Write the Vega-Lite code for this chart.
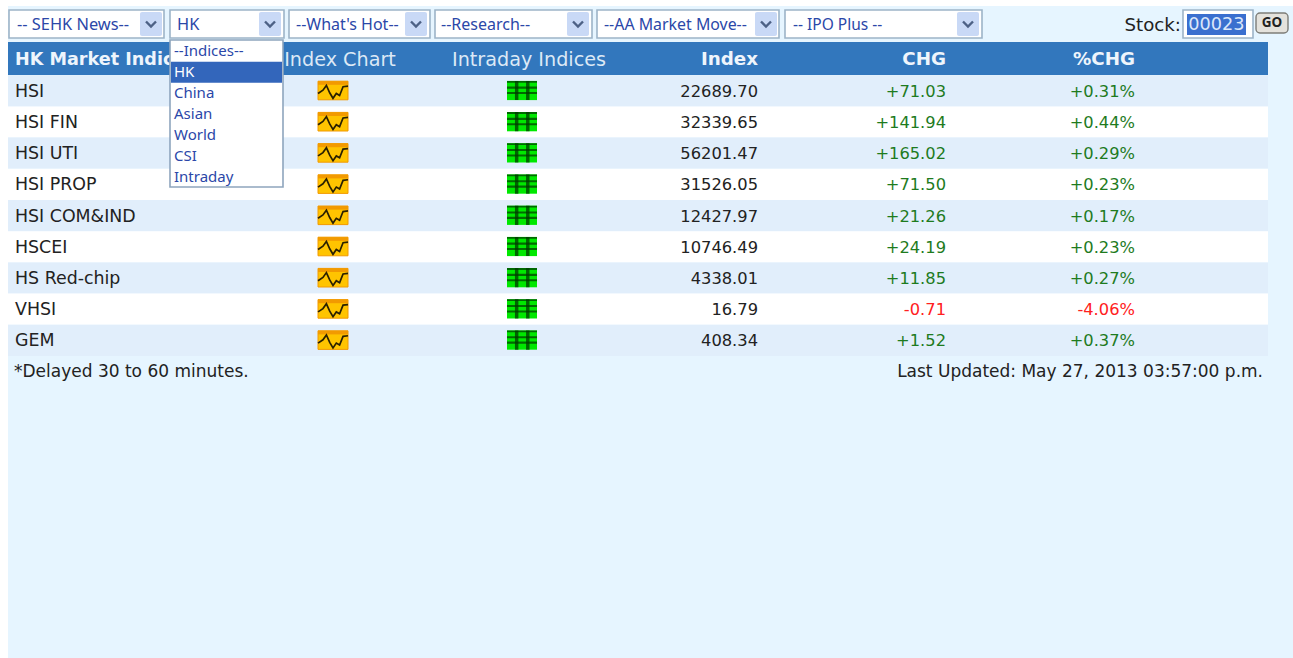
{
"$schema":"https://vega.github.io/schema/vega-lite/v6.json",
"width":1293,"height":658,"padding":0,"autosize":{"type":"fit","contains":"padding"},"background":"#ffffff",
"config":{"view":{"stroke":null},"axis":{"disable":true},"legend":{"disable":true},"locale":{"number":{"decimal":".","thousands":",","grouping":[3],"currency":["$",""],"minus":"-"}}},
"datasets":{
"rows":[
{"name":"HSI","index":22689.70,"chg":71.03,"pct":0.0031},
{"name":"HSI FIN","index":32339.65,"chg":141.94,"pct":0.0044},
{"name":"HSI UTI","index":56201.47,"chg":165.02,"pct":0.0029},
{"name":"HSI PROP","index":31526.05,"chg":71.50,"pct":0.0023},
{"name":"HSI COM&IND","index":12427.97,"chg":21.26,"pct":0.0017},
{"name":"HSCEI","index":10746.49,"chg":24.19,"pct":0.0023},
{"name":"HS Red-chip","index":4338.01,"chg":11.85,"pct":0.0027},
{"name":"VHSI","index":16.79,"chg":-0.71,"pct":-0.0406},
{"name":"GEM","index":408.34,"chg":1.52,"pct":0.0037}
],
"options":[{"option":"--Indices--"},{"option":"HK"},{"option":"China"},{"option":"Asian"},{"option":"World"},{"option":"CSI"},{"option":"Intraday"}]
},
"data":{"values":[{"k":1}]},
"resolve":{"scale":{"x":"independent","y":"independent","fill":"independent","color":"independent"}},
"layer":[
{"layer":[
{"mark":{"type":"rect","fill":"#e6f5ff"},"encoding":{"x":{"datum":8,"type":"quantitative","scale":{"domain":[0,1293],"nice":false,"zero":false}},"x2":{"datum":1293},"y":{"datum":6,"type":"quantitative","scale":{"domain":[658,0],"nice":false,"zero":false}},"y2":{"datum":658}}},
{"mark":{"type":"rect","fill":"#3277bd"},"encoding":{"x":{"datum":8,"type":"quantitative"},"x2":{"datum":1268},"y":{"datum":42,"type":"quantitative"},"y2":{"datum":75}}}
]},
{"data":{"name":"rows"},"mark":{"type":"rect"},"encoding":{
"x":{"datum":8,"type":"quantitative","scale":{"domain":[0,1293],"nice":false,"zero":false}},"x2":{"datum":1268},
"y":{"field":"name","type":"nominal","sort":null,"scale":{"type":"band","domain":["header","HSI","HSI FIN","HSI UTI","HSI PROP","HSI COM&IND","HSCEI","HS Red-chip","VHSI","GEM"],"range":[44,356],"paddingInner":0,"paddingOuter":0}},
"fill":{"field":"name","type":"nominal","legend":null,"scale":{"domain":["HSI","HSI FIN","HSI UTI","HSI PROP","HSI COM&IND","HSCEI","HS Red-chip","VHSI","GEM"],"range":["#e1eefb","#ffffff","#e1eefb","#ffffff","#e1eefb","#ffffff","#e1eefb","#ffffff","#e1eefb"]}}
}},
{"layer":[
{"data":{"values":[{"t":"HK Market Indic"}]},"mark":{"type":"text","font":"DejaVu Sans","fontSize":17.6,"fontWeight":"bold","fill":"#eef5fc","align":"left","dx":-129},"encoding":{"text":{"field":"t"},
"x":{"datum":"name","type":"nominal","scale":{"type":"point","domain":["name","chart","intraday","index","chg","pct"],"range":[144,1089],"padding":0}},
"y":{"datum":"header","type":"nominal","scale":{"type":"band","domain":["header","HSI","HSI FIN","HSI UTI","HSI PROP","HSI COM&IND","HSCEI","HS Red-chip","VHSI","GEM"],"range":[44,356],"paddingInner":0,"paddingOuter":0}}}},
{"data":{"values":[{"t":"Index Chart"}]},"mark":{"type":"text","font":"DejaVu Sans","fontSize":19.2,"fill":"#dce9f6","dx":7},"encoding":{"text":{"field":"t"},"x":{"datum":"chart","type":"nominal"},"y":{"datum":"header","type":"nominal"}}},
{"data":{"values":[{"t":"Intraday Indices"}]},"mark":{"type":"text","font":"DejaVu Sans","fontSize":19.2,"fill":"#dce9f6","dx":7},"encoding":{"text":{"field":"t"},"x":{"datum":"intraday","type":"nominal"},"y":{"datum":"header","type":"nominal"}}},
{"data":{"values":[{"t":"Index"}]},"mark":{"type":"text","font":"DejaVu Sans","fontSize":18.3,"fontWeight":"bold","fill":"#eef5fc","align":"right","dx":47},"encoding":{"text":{"field":"t"},"x":{"datum":"index","type":"nominal"},"y":{"datum":"header","type":"nominal"}}},
{"data":{"values":[{"t":"CHG"}]},"mark":{"type":"text","font":"DejaVu Sans","fontSize":18.3,"fontWeight":"bold","fill":"#eef5fc","align":"right","dx":46},"encoding":{"text":{"field":"t"},"x":{"datum":"chg","type":"nominal"},"y":{"datum":"header","type":"nominal"}}},
{"data":{"values":[{"t":"%CHG"}]},"mark":{"type":"text","font":"DejaVu Sans","fontSize":18.3,"fontWeight":"bold","fill":"#eef5fc","align":"right","dx":46},"encoding":{"text":{"field":"t"},"x":{"datum":"pct","type":"nominal"},"y":{"datum":"header","type":"nominal"}}},
{"data":{"name":"rows"},"mark":{"type":"text","font":"DejaVu Sans","fontSize":17.4,"fill":"#222222","align":"left","dx":-129,"dy":1},"encoding":{"text":{"field":"name"},"x":{"datum":"name","type":"nominal"},"y":{"field":"name","type":"nominal"}}},
{"data":{"name":"rows"},"mark":{"type":"point","filled":true,"size":900,"opacity":1,"fill":"#ffc400","stroke":"#f29a00","strokeWidth":1,"shape":"M-1,-0.64H1V0.6H-1Z"},"encoding":{"x":{"datum":"chart","type":"nominal"},"y":{"field":"name","type":"nominal"}}},
{"data":{"name":"rows"},"mark":{"type":"point","filled":true,"size":900,"opacity":1,"fill":"#f29a00","shape":"M-1,-0.64H1V-0.4H-1Z"},"encoding":{"x":{"datum":"chart","type":"nominal"},"y":{"field":"name","type":"nominal"}}},
{"data":{"name":"rows"},"mark":{"type":"point","filled":false,"size":900,"opacity":1,"stroke":"#2a2000","strokeWidth":1.7,"shape":"M-1,0.18L-0.67,-0.04L-0.44,-0.36L-0.22,0.13L0,0.5L0.22,0.18L0.44,0.31L0.67,-0.27L1,-0.31"},"encoding":{"x":{"datum":"chart","type":"nominal"},"y":{"field":"name","type":"nominal"}}},
{"data":{"name":"rows"},"mark":{"type":"point","filled":true,"size":900,"opacity":1,"fill":"#00e800","shape":"M-1,-0.66H1V0.62H-1Z"},"encoding":{"x":{"datum":"intraday","type":"nominal"},"y":{"field":"name","type":"nominal"}}},
{"data":{"name":"rows"},"mark":{"type":"point","filled":true,"size":900,"opacity":1,"fill":"#006a00","shape":"M-1,-0.66H1V-0.54H-1ZM-1,-0.28H1V-0.14H-1ZM-1,0.08H1V0.22H-1Z"},"encoding":{"x":{"datum":"intraday","type":"nominal"},"y":{"field":"name","type":"nominal"}}},
{"data":{"name":"rows"},"mark":{"type":"point","filled":true,"size":900,"opacity":0.75,"fill":"#003a00","shape":"M-0.47,-0.66H-0.24V0.62H-0.47ZM0.27,-0.66H0.5V0.62H0.27Z"},"encoding":{"x":{"datum":"intraday","type":"nominal"},"y":{"field":"name","type":"nominal"}}},
{"data":{"name":"rows"},"mark":{"type":"text","font":"DejaVu Sans","fontSize":16.3,"fill":"#222222","align":"right","dx":47,"dy":1},"encoding":{"text":{"field":"index","type":"quantitative","format":".2f"},"x":{"datum":"index","type":"nominal"},"y":{"field":"name","type":"nominal"}}},
{"data":{"name":"rows"},"mark":{"type":"text","font":"DejaVu Sans","fontSize":16.3,"align":"right","dx":46,"dy":1},"encoding":{"text":{"field":"chg","type":"quantitative","format":"+.2f"},"x":{"datum":"chg","type":"nominal"},"y":{"field":"name","type":"nominal"},"fill":{"condition":{"test":"datum.chg<0","value":"#ff2020"},"value":"#1e7b1e"}}},
{"data":{"name":"rows"},"mark":{"type":"text","font":"DejaVu Sans","fontSize":16.3,"align":"right","dx":46,"dy":1},"encoding":{"text":{"field":"pct","type":"quantitative","format":"+.2%"},"x":{"datum":"pct","type":"nominal"},"y":{"field":"name","type":"nominal"},"fill":{"condition":{"test":"datum.pct<0","value":"#ff2020"},"value":"#1e7b1e"}}}
]},
{"layer":[
{"mark":{"type":"rect","fill":"#ffffff","stroke":"#9db4c8","strokeWidth":1.6},"encoding":{"x":{"datum":9,"type":"quantitative","scale":{"domain":[0,1293],"nice":false,"zero":false}},"x2":{"datum":164},"y":{"datum":10,"type":"quantitative","scale":{"domain":[658,0],"nice":false,"zero":false}},"y2":{"datum":38}}},
{"mark":{"type":"rect","fill":"#ffffff","stroke":"#9db4c8","strokeWidth":1.6},"encoding":{"x":{"datum":170,"type":"quantitative"},"x2":{"datum":284},"y":{"datum":10,"type":"quantitative"},"y2":{"datum":38}}},
{"mark":{"type":"rect","fill":"#ffffff","stroke":"#9db4c8","strokeWidth":1.6},"encoding":{"x":{"datum":289,"type":"quantitative"},"x2":{"datum":430},"y":{"datum":10,"type":"quantitative"},"y2":{"datum":38}}},
{"mark":{"type":"rect","fill":"#ffffff","stroke":"#9db4c8","strokeWidth":1.6},"encoding":{"x":{"datum":435,"type":"quantitative"},"x2":{"datum":592},"y":{"datum":10,"type":"quantitative"},"y2":{"datum":38}}},
{"mark":{"type":"rect","fill":"#ffffff","stroke":"#9db4c8","strokeWidth":1.6},"encoding":{"x":{"datum":597,"type":"quantitative"},"x2":{"datum":779},"y":{"datum":10,"type":"quantitative"},"y2":{"datum":38}}},
{"mark":{"type":"rect","fill":"#ffffff","stroke":"#9db4c8","strokeWidth":1.6},"encoding":{"x":{"datum":785,"type":"quantitative"},"x2":{"datum":982},"y":{"datum":10,"type":"quantitative"},"y2":{"datum":38}}},
{"mark":{"type":"rect","fill":"#c9d9f6","cornerRadius":2},"encoding":{"x":{"datum":140,"type":"quantitative"},"x2":{"datum":162},"y":{"datum":12,"type":"quantitative"},"y2":{"datum":36}}},
{"mark":{"type":"rect","fill":"#c9d9f6","cornerRadius":2},"encoding":{"x":{"datum":259,"type":"quantitative"},"x2":{"datum":281},"y":{"datum":12,"type":"quantitative"},"y2":{"datum":36}}},
{"mark":{"type":"rect","fill":"#c9d9f6","cornerRadius":2},"encoding":{"x":{"datum":405,"type":"quantitative"},"x2":{"datum":427},"y":{"datum":12,"type":"quantitative"},"y2":{"datum":36}}},
{"mark":{"type":"rect","fill":"#c9d9f6","cornerRadius":2},"encoding":{"x":{"datum":567,"type":"quantitative"},"x2":{"datum":589},"y":{"datum":12,"type":"quantitative"},"y2":{"datum":36}}},
{"mark":{"type":"rect","fill":"#c9d9f6","cornerRadius":2},"encoding":{"x":{"datum":755,"type":"quantitative"},"x2":{"datum":777},"y":{"datum":12,"type":"quantitative"},"y2":{"datum":36}}},
{"mark":{"type":"rect","fill":"#c9d9f6","cornerRadius":2},"encoding":{"x":{"datum":957,"type":"quantitative"},"x2":{"datum":979},"y":{"datum":12,"type":"quantitative"},"y2":{"datum":36}}},
{"mark":{"type":"point","filled":false,"size":100,"opacity":1,"stroke":"#4d6185","strokeWidth":2.4,"shape":"M-1,-0.5L0,0.5L1,-0.5"},"encoding":{"x":{"datum":151,"type":"quantitative"},"y":{"datum":24,"type":"quantitative"}}},
{"mark":{"type":"point","filled":false,"size":100,"opacity":1,"stroke":"#4d6185","strokeWidth":2.4,"shape":"M-1,-0.5L0,0.5L1,-0.5"},"encoding":{"x":{"datum":270,"type":"quantitative"},"y":{"datum":24,"type":"quantitative"}}},
{"mark":{"type":"point","filled":false,"size":100,"opacity":1,"stroke":"#4d6185","strokeWidth":2.4,"shape":"M-1,-0.5L0,0.5L1,-0.5"},"encoding":{"x":{"datum":416,"type":"quantitative"},"y":{"datum":24,"type":"quantitative"}}},
{"mark":{"type":"point","filled":false,"size":100,"opacity":1,"stroke":"#4d6185","strokeWidth":2.4,"shape":"M-1,-0.5L0,0.5L1,-0.5"},"encoding":{"x":{"datum":578,"type":"quantitative"},"y":{"datum":24,"type":"quantitative"}}},
{"mark":{"type":"point","filled":false,"size":100,"opacity":1,"stroke":"#4d6185","strokeWidth":2.4,"shape":"M-1,-0.5L0,0.5L1,-0.5"},"encoding":{"x":{"datum":766,"type":"quantitative"},"y":{"datum":24,"type":"quantitative"}}},
{"mark":{"type":"point","filled":false,"size":100,"opacity":1,"stroke":"#4d6185","strokeWidth":2.4,"shape":"M-1,-0.5L0,0.5L1,-0.5"},"encoding":{"x":{"datum":968,"type":"quantitative"},"y":{"datum":24,"type":"quantitative"}}},
{"data":{"values":[{"t":"-- SEHK News--"}]},"mark":{"type":"text","font":"Noto Sans","fontSize":16.4,"fill":"#2b47a8","align":"left"},"encoding":{"text":{"field":"t"},"x":{"datum":17,"type":"quantitative"},"y":{"datum":25,"type":"quantitative"}}},
{"data":{"values":[{"t":"HK"}]},"mark":{"type":"text","font":"Noto Sans","fontSize":16.4,"fill":"#2b47a8","align":"left"},"encoding":{"text":{"field":"t"},"x":{"datum":177,"type":"quantitative"},"y":{"datum":25,"type":"quantitative"}}},
{"data":{"values":[{"t":"--What's Hot--"}]},"mark":{"type":"text","font":"Noto Sans","fontSize":16,"fill":"#2b47a8","align":"left"},"encoding":{"text":{"field":"t"},"x":{"datum":296,"type":"quantitative"},"y":{"datum":25,"type":"quantitative"}}},
{"data":{"values":[{"t":"--Research--"}]},"mark":{"type":"text","font":"Noto Sans","fontSize":16,"fill":"#2b47a8","align":"left"},"encoding":{"text":{"field":"t"},"x":{"datum":441,"type":"quantitative"},"y":{"datum":25,"type":"quantitative"}}},
{"data":{"values":[{"t":"--AA Market Move--"}]},"mark":{"type":"text","font":"Noto Sans","fontSize":15.9,"fill":"#2b47a8","align":"left"},"encoding":{"text":{"field":"t"},"x":{"datum":604,"type":"quantitative"},"y":{"datum":25,"type":"quantitative"}}},
{"data":{"values":[{"t":"-- IPO Plus --"}]},"mark":{"type":"text","font":"Noto Sans","fontSize":15.5,"fill":"#2b47a8","align":"left"},"encoding":{"text":{"field":"t"},"x":{"datum":793,"type":"quantitative"},"y":{"datum":25,"type":"quantitative"}}},
{"data":{"values":[{"t":"Stock:"}]},"mark":{"type":"text","font":"DejaVu Sans","fontSize":18.2,"fill":"#222222","align":"right"},"encoding":{"text":{"field":"t"},"x":{"datum":1181,"type":"quantitative"},"y":{"datum":26,"type":"quantitative"}}},
{"mark":{"type":"rect","fill":"#ffffff","stroke":"#9db4c8","strokeWidth":1.6},"encoding":{"x":{"datum":1183,"type":"quantitative"},"x2":{"datum":1253},"y":{"datum":10,"type":"quantitative"},"y2":{"datum":38}}},
{"mark":{"type":"rect","fill":"#3a6fcf"},"encoding":{"x":{"datum":1187,"type":"quantitative"},"x2":{"datum":1246},"y":{"datum":14,"type":"quantitative"},"y2":{"datum":35}}},
{"data":{"values":[{"t":"00023"}]},"mark":{"type":"text","font":"DejaVu Sans","fontSize":17.7,"fill":"#dbe6fa","align":"center"},"encoding":{"text":{"field":"t"},"x":{"datum":1216.5,"type":"quantitative"},"y":{"datum":25,"type":"quantitative"}}},
{"mark":{"type":"rect","fill":"#e4e2dc","stroke":"#7d7d78","strokeWidth":1.4,"cornerRadius":4},"encoding":{"x":{"datum":1256,"type":"quantitative"},"x2":{"datum":1288},"y":{"datum":13,"type":"quantitative"},"y2":{"datum":33}}},
{"data":{"values":[{"t":"GO"}]},"mark":{"type":"text","font":"Noto Sans","fontSize":13.5,"fontWeight":"bold","fill":"#222222","align":"center"},"encoding":{"text":{"field":"t"},"x":{"datum":1272,"type":"quantitative"},"y":{"datum":23,"type":"quantitative"}}},
{"data":{"values":[{"t":"*Delayed 30 to 60 minutes."}]},"mark":{"type":"text","font":"DejaVu Sans","fontSize":17,"fill":"#222222","align":"left"},"encoding":{"text":{"field":"t"},"x":{"datum":14,"type":"quantitative"},"y":{"datum":372,"type":"quantitative"}}},
{"data":{"values":[{"t":"Last Updated: May 27, 2013 03:57:00 p.m."}]},"mark":{"type":"text","font":"DejaVu Sans","fontSize":17,"fill":"#222222","align":"right"},"encoding":{"text":{"field":"t"},"x":{"datum":1263,"type":"quantitative"},"y":{"datum":372,"type":"quantitative"}}},
{"mark":{"type":"rect","fill":"#ffffff","stroke":"#8ea5bd","strokeWidth":1.6},"encoding":{"x":{"datum":170,"type":"quantitative"},"x2":{"datum":283},"y":{"datum":40,"type":"quantitative"},"y2":{"datum":187}}}
]},
{"data":{"name":"options"},"layer":[
{"transform":[{"filter":"datum.option==='HK'"}],"mark":{"type":"rect","fill":"#3366bb"},"encoding":{"x":{"datum":171,"type":"quantitative","scale":{"domain":[0,1293],"nice":false,"zero":false}},"x2":{"datum":282},"y":{"field":"option","type":"nominal","scale":{"type":"band","domain":["--Indices--","HK","China","Asian","World","CSI","Intraday"],"range":[41,187],"paddingInner":0,"paddingOuter":0}}}},
{"mark":{"type":"text","font":"Noto Sans","fontSize":15,"align":"left","dy":0},"encoding":{"text":{"field":"option"},"x":{"datum":174,"type":"quantitative"},"y":{"field":"option","type":"nominal"},"fill":{"condition":{"test":"datum.option==='HK'","value":"#ffffff"},"value":"#2b47a8"}}}
]}
]
}
